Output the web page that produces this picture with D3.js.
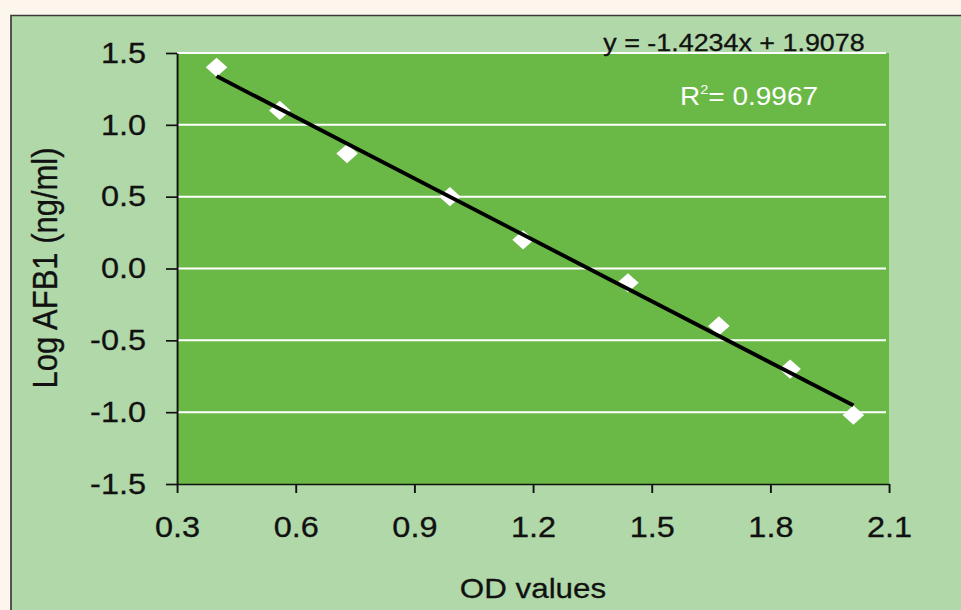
<!DOCTYPE html>
<html><head><meta charset="utf-8">
<script src="https://cdn.jsdelivr.net/npm/d3@7"></script>
<style>html,body{margin:0;padding:0;background:#fdf6ec;overflow:hidden}</style>
</head><body>
<script>
const odValues = [0.40, 0.56, 0.73, 0.99, 1.175, 1.44, 1.67, 1.85, 2.01];
const logAfb1 = [1.40, 1.10, 0.80, 0.50, 0.20, -0.10, -0.40, -0.70, -1.02];
const xTicks = [0.3, 0.6, 0.9, 1.2, 1.5, 1.8, 2.1];
const yTicks = [-1.5, -1.0, -0.5, 0.0, 0.5, 1.0, 1.5];
const slope = -1.4234, intercept = 1.9078, r2 = "0.9967";
const fitRange = [0.40, 2.01];

const W = 961, H = 610, sx = 1.12;
const font = "'Liberation Sans', Arial, Helvetica, sans-serif";
const svg = d3.select("body").append("svg").attr("width", W).attr("height", H);
svg.append("rect").attr("width", W).attr("height", H).attr("fill", "#fdf6ec");
const g = svg.append("g").attr("transform", `scale(${sx},1)`);

// outer chart area
g.append("rect").attr("x", 11/sx).attr("y", 15.5).attr("width", (W+20)/sx).attr("height", H)
  .attr("fill", "#b0d8a8").attr("stroke", "#3a3a3a").attr("stroke-width", 1.5);

const x = d3.scaleLinear().domain([0.3, 2.1]).range([177/sx, 889/sx]);
const y = d3.scaleLinear().domain([-1.5, 1.5]).range([484, 53]);

g.append("rect").attr("x", x(0.3)).attr("y", y(1.5)).attr("width", x(2.1)-x(0.3)).attr("height", y(-1.5)-y(1.5))
  .attr("fill", "#6ab947");

// gridlines
g.append("g").selectAll("line").data(yTicks.filter(d => d > -1.5)).join("line")
  .attr("x1", x(0.3)).attr("x2", x(2.1) - 3/sx)
  .attr("y1", d => y(d)).attr("y2", d => y(d))
  .attr("stroke", "#ffffff").attr("stroke-width", 2);

// axes
const yAxis = g.append("g").attr("transform", `translate(${x(0.3)},0)`)
  .call(d3.axisLeft(y).tickValues(yTicks).tickSizeInner(11/sx).tickSizeOuter(0).tickFormat(d3.format(".1f")).tickPadding(20/sx));
const xAxis = g.append("g").attr("transform", `translate(0,${y(-1.5)})`)
  .call(d3.axisBottom(x).tickValues(xTicks).tickSizeInner(9).tickSizeOuter(0).tickFormat(d3.format(".1f")).tickPadding(23));
[yAxis, xAxis].forEach(a => {
  a.select(".domain").attr("stroke", "#111").attr("stroke-width", 1.7);
  a.selectAll(".tick line").attr("stroke", "#111").attr("stroke-width", 1.7);
  a.selectAll(".tick text").attr("font-family", font).attr("font-size", 29).attr("fill", "#111")
    .attr("stroke", "#111").attr("stroke-width", 0.3);
});
yAxis.selectAll(".tick text").text(d => d3.format(".1f")(d).replace("−", "-"));
xAxis.selectAll(".tick text").attr("dy", "0.71em");

// markers
g.append("g").selectAll("path").data(odValues.map((v, i) => [v, logAfb1[i]])).join("path")
  .attr("d", d3.symbol(d3.symbolSquare, 185)())
  .attr("transform", d => `translate(${x(d[0])},${y(d[1])}) rotate(45)`)
  .attr("fill", "#ffffff");

// trend line
g.append("line")
  .attr("x1", x(fitRange[0])).attr("y1", y(slope*fitRange[0]+intercept))
  .attr("x2", x(fitRange[1])).attr("y2", y(slope*fitRange[1]+intercept))
  .attr("stroke", "#000").attr("stroke-width", 3.8);

// equation text
g.append("text").attr("x", 734/sx).attr("y", 51).attr("text-anchor", "middle")
  .attr("font-family", font).attr("font-size", 24).attr("fill", "#111")
  .attr("stroke", "#111").attr("stroke-width", 0.3)
  .text(`y = ${slope}x + ${intercept}`);
const rt = g.append("text").attr("x", 680/sx).attr("y", 105)
  .attr("font-family", font).attr("font-size", 25).attr("fill", "#ffffff");
rt.append("tspan").text("R");
rt.append("tspan").attr("font-size", 13).attr("dy", -11).text("2");
rt.append("tspan").attr("dy", 11).text(`= ${r2}`);

// axis titles
g.append("text").attr("x", 533/sx).attr("y", 598).attr("text-anchor", "middle")
  .attr("font-family", font).attr("font-size", 28).attr("fill", "#111")
  .attr("stroke", "#111").attr("stroke-width", 0.3).text("OD values");
g.append("text").attr("transform", `translate(${57/sx},${268}) rotate(-90)`).attr("text-anchor", "middle")
  .attr("font-family", font).attr("font-size", 31).attr("fill", "#111")
  .attr("stroke", "#111").attr("stroke-width", 0.3).text("Log AFB1 (ng/ml)");
</script>
</body></html>
